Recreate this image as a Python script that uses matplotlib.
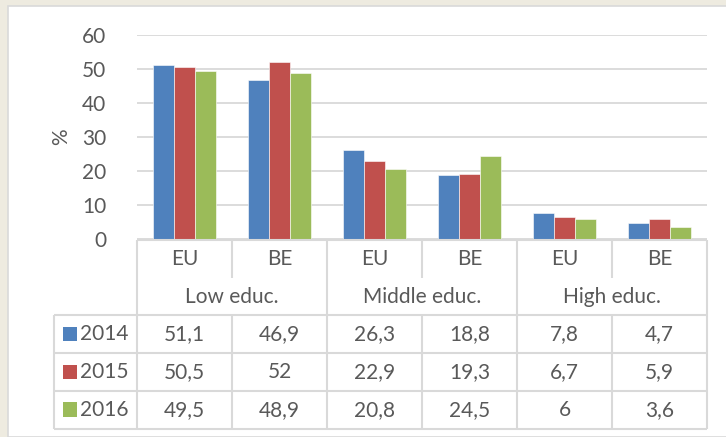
import matplotlib
matplotlib.use('Agg')
import matplotlib.pyplot as plt
from matplotlib.patches import Rectangle

# data
groups = ['Low educ.', 'Middle educ.', 'High educ.']
regions = ['EU', 'BE', 'EU', 'BE', 'EU', 'BE']
years = ['2014', '2015', '2016']
v2014 = [51.1, 46.9, 26.3, 18.8, 7.8, 4.7]
v2015 = [50.5, 52, 22.9, 19.3, 6.7, 5.9]
v2016 = [49.5, 48.9, 20.8, 24.5, 6, 3.6]
series = [v2014, v2015, v2016]
colors = ['#4F81BD', '#C0504D', '#9BBB59']

plt.rcParams['font.family'] = ['Lato', 'DejaVu Sans']
txt = '#595959'
grid = '#D9D9D9'
fs = 15

W, H = 726, 437
fig = plt.figure(figsize=(W / 100, H / 100), dpi=100)
fig.patch.set_facecolor('#EEEBE0')

# white chart area
fig.patches.append(Rectangle((8 / W, 0), 1, 1 - 6 / H, transform=fig.transFigure,
                             facecolor='white', edgecolor=grid, lw=1.2, zorder=-10))

# bar plot
x0, x1 = 137, 707
ytop, ybot = 35, 239.5
ax = fig.add_axes([x0 / W, 1 - ybot / H, (x1 - x0) / W, (ybot - ytop) / H])
bw = 0.221
for k, vals in enumerate(series):
    xs = [i + 0.5 + (k - 1) * bw for i in range(len(vals))]
    ax.bar(xs, vals, width=bw, color=colors[k], edgecolor='white', linewidth=0.4, zorder=3)
ax.set_xlim(0, len(regions))
ax.set_ylim(0, 60)
ax.set_yticks(range(0, 61, 10))
ax.set_xticks([])
ax.grid(axis='y', color=grid, lw=1.3, zorder=0)
ax.tick_params(axis='y', length=0, pad=22, labelsize=fs, labelcolor=txt)
for s in ax.spines.values():
    s.set_visible(False)
ax.set_facecolor('none')
fig.text(61 / W, 1 - 137 / H, '%', rotation=90, ha='center', va='center', fontsize=fs, color=txt)

# data table
lx = 54
tt, tb = 240, 428.5
at = fig.add_axes([lx / W, 1 - tb / H, (x1 - lx) / W, (tb - tt) / H])
at.set_xlim(-(x0 - lx) / 95, len(regions))
at.set_ylim(5, 0)
at.axis('off')
lk = dict(color=grid, lw=1.5, clip_on=False, solid_capstyle='butt')
n = len(regions)
# horizontal lines
at.plot([0, n], [0, 0], **lk)
for r in [2, 3, 4, 5]:
    at.plot([at.get_xlim()[0], n], [r, r], **lk)
# vertical lines
at.plot([at.get_xlim()[0]] * 2, [2, 5], **lk)
for c in range(n + 1):
    if c % 2 == 0:
        at.plot([c, c], [0, 5], **lk)
    else:
        at.plot([c, c], [0, 1], **lk)
        at.plot([c, c], [2, 5], **lk)

for i, reg in enumerate(regions):
    at.text(i + 0.5, 0.5, reg, ha='center', va='center', fontsize=fs, color=txt)
for g, name in enumerate(groups):
    at.text(2 * g + 1, 1.5, name, ha='center', va='center', fontsize=fs, color=txt)
for k, vals in enumerate(series):
    row = 2.5 + k
    at.add_patch(Rectangle((-0.78, row - 0.19), 0.15, 0.38, facecolor=colors[k], clip_on=False))
    at.text(-0.6, row, years[k], ha='left', va='center', fontsize=fs, color=txt)
    for i, v in enumerate(vals):
        at.text(i + 0.5, row, ('%g' % v).replace('.', ','), ha='center', va='center',
                fontsize=fs, color=txt)

fig.savefig('out.png', dpi=100, facecolor=fig.get_facecolor())
